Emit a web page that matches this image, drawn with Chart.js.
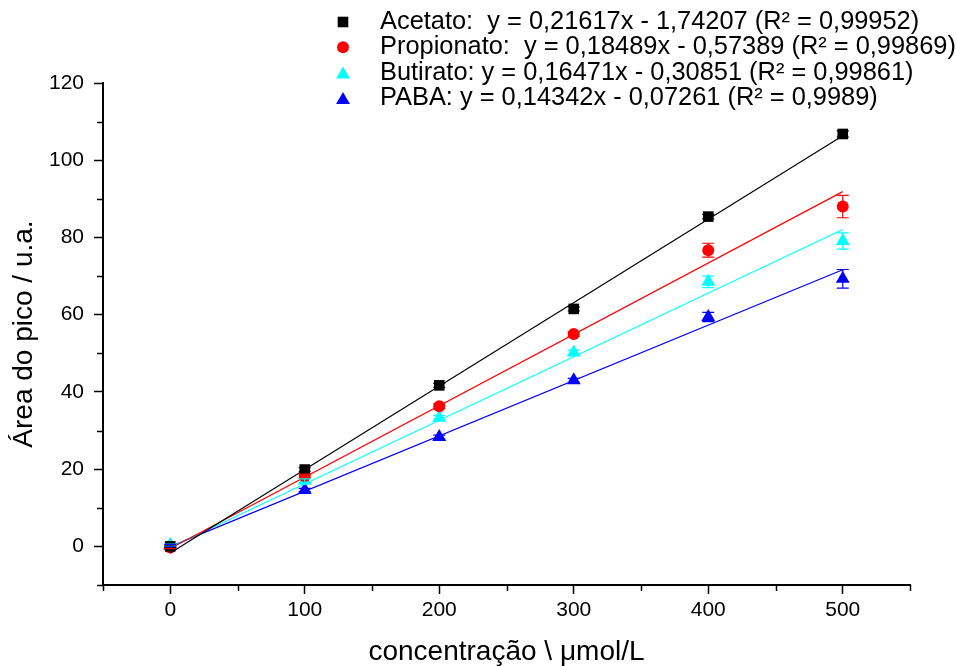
<!DOCTYPE html>
<html>
<head>
<meta charset="utf-8">
<script src="https://cdn.jsdelivr.net/npm/chart.js@4.4.1/dist/chart.umd.min.js"></script>
<style>
    body { margin: 0; background: #fff; }
    #wrap { width: 956px; height: 666px; position: relative; }
</style>
</head>
<body>
<div id="wrap"><canvas id="myChart"></canvas></div>
<script>
// concentrations (µmol/L)
const conc = [0, 100, 200, 300, 400, 500];

const acetato    = [0.0, 19.9, 41.7, 61.5, 85.4, 106.8];
const propionato = [-0.3, 18.2, 36.3, 55.0, 76.7, 88.0];
const butirato   = [0.3, 17.0, 33.3, 50.2, 68.5, 79.1];
const paba       = [0.2, 14.6, 28.3, 43.0, 59.4, 69.3];

// error bars (+/-)
const errAcetato    = [0.3, 0.5, 0.5, 0.5, 0.6, 0.8];
const errPropionato = [0.3, 0.5, 0.6, 0.6, 1.8, 2.9];
const errButirato   = [0.3, 0.5, 0.6, 0.6, 1.5, 2.1];
const errPaba       = [0.3, 0.4, 0.5, 0.5, 1.2, 2.4];

// fitted line ends (x = 0 and x = 500)
const fitX = [0, 500];
const fitAcetato    = [-1.74, 106.34];
const fitPropionato = [-0.57, 91.87];
const fitButirato   = [-0.31, 82.05];
const fitPaba       = [-0.07, 71.64];

const seriesNames = [
    'Acetato:  y = 0,21617x - 1,74207 (R\u00b2 = 0,99952)',
    'Propionato:  y = 0,18489x - 0,57389 (R\u00b2 = 0,99869)',
    'Butirato: y = 0,16471x - 0,30851 (R\u00b2 = 0,99861)',
    'PABA: y = 0,14342x - 0,07261 (R\u00b2 = 0,9989)'
];

const xMajorTicks = [0, 100, 200, 300, 400, 500];
const xMinorTicks = [-50, 50, 150, 250, 350, 450, 550];
const yMajorTicks = [0, 20, 40, 60, 80, 100, 120];
const yMinorTicks = [-10, 10, 30, 50, 70, 90, 110];

const FONT = "'Liberation Sans', Arial, sans-serif";

const series = [
    { values: acetato,    err: errAcetato,    fit: fitAcetato,    color: '#000000', style: 'rect',     radius: 7.5 },
    { values: propionato, err: errPropionato, fit: fitPropionato, color: '#ff0000', style: 'circle',   radius: 6 },
    { values: butirato,   err: errButirato,   fit: fitButirato,   color: '#00ffff', style: 'triangle', radius: 8 },
    { values: paba,       err: errPaba,       fit: fitPaba,       color: '#0000ff', style: 'triangle', radius: 8 }
];

const toPoints = (xs, ys) => xs.map((x, i) => ({ x: x, y: ys[i] }));

const datasets = [];
series.forEach((s, i) => {
    datasets.push({
        type: 'line',
        label: 'fit' + i,
        data: toPoints(fitX, s.fit),
        borderColor: s.color,
        borderWidth: 1.2,
        pointRadius: 0,
        fill: false
    });
});
series.forEach((s, i) => {
    datasets.push({
        type: 'scatter',
        label: seriesNames[i],
        data: toPoints(conc, s.values),
        errors: s.err,
        backgroundColor: s.color,
        borderColor: s.color,
        borderWidth: 0,
        pointStyle: s.style,
        pointRadius: s.radius,
        showLine: false
    });
});

const errorBars = {
    id: 'errorBars',
    afterDatasetsDraw(chart) {
        const ctx = chart.ctx;
        const xs = chart.scales.x, ys = chart.scales.y;
        chart.data.datasets.forEach(ds => {
            if (!ds.errors) return;
            ctx.save();
            ctx.strokeStyle = ds.borderColor;
            ctx.lineWidth = 1.2;
            ds.data.forEach((p, i) => {
                const e = ds.errors[i];
                const px = xs.getPixelForValue(p.x);
                const top = ys.getPixelForValue(p.y + e);
                const bot = ys.getPixelForValue(p.y - e);
                ctx.beginPath();
                ctx.moveTo(px, top); ctx.lineTo(px, bot);
                ctx.moveTo(px - 6, top); ctx.lineTo(px + 6, top);
                ctx.moveTo(px - 6, bot); ctx.lineTo(px + 6, bot);
                ctx.stroke();
            });
            ctx.restore();
        });
    }
};

const minorTicks = {
    id: 'minorTicks',
    afterDraw(chart) {
        const ctx = chart.ctx;
        const area = chart.chartArea;
        ctx.save();
        ctx.strokeStyle = '#000';
        ctx.lineWidth = 1.5;
        ctx.beginPath();
        xMinorTicks.forEach(v => {
            const px = Math.round(chart.scales.x.getPixelForValue(v)) + 0.5;
            ctx.moveTo(px, area.bottom);
            ctx.lineTo(px, area.bottom + 6);
        });
        yMinorTicks.forEach(v => {
            const py = Math.round(chart.scales.y.getPixelForValue(v)) + 0.5;
            ctx.moveTo(area.left, py);
            ctx.lineTo(area.left - 6, py);
        });
        ctx.stroke();
        ctx.restore();
    }
};

const legendBox = {
    id: 'legendBox',
    afterDraw(chart) {
        const ctx = chart.ctx;
        ctx.save();
        ctx.font = '25.4px ' + FONT;
        ctx.textBaseline = 'middle';
        ctx.textAlign = 'left';
        series.forEach((s, i) => {
            const y = 22 + i * 25.3;
            ctx.fillStyle = s.color;
            ctx.strokeStyle = s.color;
            Chart.helpers.drawPoint(ctx, {
                pointStyle: s.style,
                radius: s.radius,
                rotation: 0,
                borderWidth: 0
            }, 343, s.style === 'triangle' ? y + 2 : y);
            ctx.fillStyle = '#000';
            ctx.fillText(seriesNames[i], 380, y);
        });
        ctx.restore();
    }
};

new Chart(document.getElementById('myChart'), {
    type: 'scatter',
    data: { datasets: datasets },
    plugins: [errorBars, minorTicks, legendBox],
    options: {
        responsive: true,
        maintainAspectRatio: false,
        animation: false,
        layout: { padding: { top: 83, right: 46, left: 0, bottom: 0 } },
        plugins: {
            legend: { display: false },
            tooltip: { enabled: false }
        },
        scales: {
            x: {
                type: 'linear',
                min: -50,
                max: 550,
                afterBuildTicks: s => { s.ticks = xMajorTicks.map(v => ({ value: v })); },
                afterFit: s => { s.height = 81; },
                grid: { drawOnChartArea: false, tickLength: 9, tickWidth: 1.5, tickColor: '#000' },
                border: { display: true, width: 2, color: '#000' },
                ticks: { color: '#000', padding: 4, maxRotation: 0, font: { family: FONT, size: 21 } },
                title: {
                    display: true,
                    text: 'concentração \\ μmol/L',
                    color: '#000',
                    font: { family: FONT, size: 28, lineHeight: 1.0 },
                    padding: { top: 0, bottom: 0 }
                }
            },
            y: {
                type: 'linear',
                min: -10,
                max: 120,
                afterBuildTicks: s => { s.ticks = yMajorTicks.map(v => ({ value: v })); },
                afterFit: s => { s.width = 103; },
                grid: { drawOnChartArea: false, tickLength: 9, tickWidth: 1.5, tickColor: '#000' },
                border: { display: true, width: 2, color: '#000' },
                ticks: { color: '#000', padding: 10, font: { family: FONT, size: 21 } },
                title: {
                    display: true,
                    text: 'Área do pico / u.a.',
                    color: '#000',
                    font: { family: FONT, size: 28, lineHeight: 1.2 },
                    padding: { top: 7, bottom: 0 }
                }
            }
        }
    }
});
</script>
</body>
</html>
